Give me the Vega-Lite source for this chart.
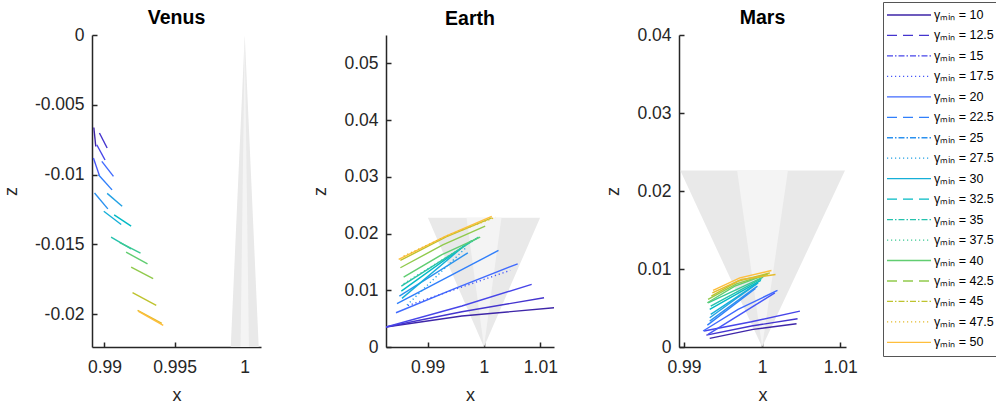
{
  "$schema": "https://vega.github.io/schema/vega-lite/v6.json",
  "padding": {"left": 2, "top": 1, "right": 5, "bottom": 5},
  "background": "white",
  "config": {
    "view": {"stroke": null},
    "axis": {"grid": false, "domainColor": "#262626", "domainWidth": 1.5, "tickColor": "#262626", "tickWidth": 1.5, "tickSize": -5, "labelFont": "Liberation Sans", "labelFontSize": 17.5, "labelColor": "#262626", "titleFont": "Liberation Sans", "titleFontSize": 18, "titleFontWeight": "normal", "titleColor": "#262626", "labelFlush": false, "labelOverlap": false, "labelExpr": "'' + datum.value"},
    "axisX": {"labelPadding": 16, "titlePadding": 11},
    "axisY": {"labelPadding": 13, "titlePadding": 14},
    "title": {"font": "Liberation Sans", "fontSize": 19.5, "fontWeight": "bold", "color": "#000000", "offset": -2, "anchor": "middle"}
  },
  "datasets": {
    "venusCone": [
      {"part": "outer", "z": 0, "lo": 1, "hi": 1}, {"part": "outer", "z": -0.0224, "lo": 0.999, "hi": 1.001},
      {"part": "inner", "z": 0, "lo": 1, "hi": 1}, {"part": "inner", "z": -0.0224, "lo": 0.9997, "hi": 1.0003}
    ],
    "earthCone": [
      {"part": "outer", "z": 0, "lo": 1, "hi": 1}, {"part": "outer", "z": 0.0228, "lo": 0.99005, "hi": 1.00995},
      {"part": "inner", "z": 0, "lo": 1, "hi": 1}, {"part": "inner", "z": 0.0228, "lo": 0.9969, "hi": 1.0031}
    ],
    "marsCone": [
      {"part": "outer", "z": 0, "lo": 1, "hi": 1}, {"part": "outer", "z": 0.02263, "lo": 0.98953, "hi": 1.0106},
      {"part": "inner", "z": 0, "lo": 1, "hi": 1}, {"part": "inner", "z": 0.02263, "lo": 0.9968, "hi": 1.0033}
    ],
    "venus": [
      {"g":10,"p":0,"x":0.98924,"z":-0.00662},{"g":10,"p":1,"x":0.98938,"z":-0.00798},
      {"g":12.5,"p":0,"x":0.98964,"z":-0.00702},{"g":12.5,"p":1,"x":0.99019,"z":-0.00809},
      {"g":15,"p":0,"x":0.98945,"z":-0.00786},{"g":15,"p":1,"x":0.99004,"z":-0.00895},
      {"g":17.5,"p":0,"x":0.98921,"z":-0.00881},{"g":17.5,"p":1,"x":0.98964,"z":-0.01007},
      {"g":20,"p":0,"x":0.98981,"z":-0.00905},{"g":20,"p":1,"x":0.99064,"z":-0.01012},
      {"g":22.5,"p":0,"x":0.98957,"z":-0.01000},{"g":22.5,"p":1,"x":0.99054,"z":-0.01109},
      {"g":25,"p":0,"x":0.98929,"z":-0.01131},{"g":25,"p":1,"x":0.99024,"z":-0.01245},
      {"g":27.5,"p":0,"x":0.99019,"z":-0.01134},{"g":27.5,"p":1,"x":0.99126,"z":-0.01226},
      {"g":30,"p":0,"x":0.98995,"z":-0.01262},{"g":30,"p":1,"x":0.99119,"z":-0.01357},
      {"g":32.5,"p":0,"x":0.99069,"z":-0.01288},{"g":32.5,"p":1,"x":0.99190,"z":-0.01369},
      {"g":35,"p":0,"x":0.99047,"z":-0.01448},{"g":35,"p":1,"x":0.99190,"z":-0.01531},
      {"g":37.5,"p":0,"x":0.99107,"z":-0.01484},{"g":37.5,"p":1,"x":0.99257,"z":-0.01562},
      {"g":40,"p":0,"x":0.99154,"z":-0.01555},{"g":40,"p":1,"x":0.99307,"z":-0.01638},
      {"g":42.5,"p":0,"x":0.99190,"z":-0.01662},{"g":42.5,"p":1,"x":0.99347,"z":-0.01745},
      {"g":45,"p":0,"x":0.99200,"z":-0.01845},{"g":45,"p":1,"x":0.99369,"z":-0.01936},
      {"g":47.5,"p":0,"x":0.99236,"z":-0.01971},{"g":47.5,"p":1,"x":0.99409,"z":-0.02064},
      {"g":50,"p":0,"x":0.99243,"z":-0.01979},{"g":50,"p":1,"x":0.99419,"z":-0.02079}
    ],
    "earth": [
      {"g":10,"p":0,"x":0.98250,"z":0.00350},{"g":10,"p":1,"x":0.99608,"z":0.00546},{"g":10,"p":2,"x":1.01260,"z":0.00694},
      {"g":12.5,"p":0,"x":0.98250,"z":0.00350},{"g":12.5,"p":1,"x":0.99608,"z":0.00622},{"g":12.5,"p":2,"x":1.01065,"z":0.00868},
      {"g":15,"p":0,"x":0.98250,"z":0.00350},{"g":15,"p":1,"x":0.99608,"z":0.00722},{"g":15,"p":2,"x":1.00846,"z":0.01104},
      {"g":17.5,"p":0,"x":0.98650,"z":0.00730},{"g":17.5,"p":1,"x":1.00464,"z":0.01350},
      {"g":20,"p":0,"x":0.98439,"z":0.00604},{"g":20,"p":1,"x":0.99490,"z":0.01033},{"g":20,"p":2,"x":1.00598,"z":0.01467},
      {"g":22.5,"p":0,"x":0.98457,"z":0.00763},{"g":22.5,"p":1,"x":1.00257,"z":0.01702},
      {"g":25,"p":0,"x":0.98499,"z":0.00898},{"g":25,"p":1,"x":0.99713,"z":0.01660},
      {"g":27.5,"p":0,"x":0.98634,"z":0.00739},{"g":27.5,"p":1,"x":0.99678,"z":0.01749},
      {"g":30,"p":0,"x":0.98545,"z":0.00857},{"g":30,"p":1,"x":0.99655,"z":0.01790},
      {"g":32.5,"p":0,"x":0.98534,"z":0.00986},{"g":32.5,"p":1,"x":0.99784,"z":0.01878},
      {"g":35,"p":0,"x":0.98534,"z":0.01074},{"g":35,"p":1,"x":0.99903,"z":0.01937},
      {"g":37.5,"p":0,"x":0.98575,"z":0.01115},{"g":37.5,"p":1,"x":0.99873,"z":0.01913},
      {"g":40,"p":0,"x":0.98575,"z":0.01232},{"g":40,"p":1,"x":0.99254,"z":0.01630},{"g":40,"p":2,"x":0.99933,"z":0.01937},
      {"g":42.5,"p":0,"x":0.98517,"z":0.01397},{"g":42.5,"p":1,"x":0.99269,"z":0.01800},{"g":42.5,"p":2,"x":1.00021,"z":0.02130},
      {"g":45,"p":0,"x":0.98517,"z":0.01526},{"g":45,"p":1,"x":0.99328,"z":0.01940},{"g":45,"p":2,"x":1.00138,"z":0.02277},
      {"g":47.5,"p":0,"x":0.98575,"z":0.01602},{"g":47.5,"p":1,"x":0.99392,"z":0.01980},{"g":47.5,"p":2,"x":1.00209,"z":0.02289},
      {"g":50,"p":0,"x":0.98487,"z":0.01544},{"g":50,"p":1,"x":0.99313,"z":0.01950},{"g":50,"p":2,"x":1.00138,"z":0.02301}
    ],
    "mars": [
      {"g":10,"p":0,"x":0.99329,"z":0.00111},{"g":10,"p":1,"x":0.99885,"z":0.00226},{"g":10,"p":2,"x":1.00440,"z":0.00298},
      {"g":12.5,"p":0,"x":0.99286,"z":0.00153},{"g":12.5,"p":1,"x":0.99863,"z":0.00269},{"g":12.5,"p":2,"x":1.00453,"z":0.00362},
      {"g":15,"p":0,"x":0.99256,"z":0.00205},{"g":15,"p":1,"x":0.99863,"z":0.00324},{"g":15,"p":2,"x":1.00483,"z":0.00460},
      {"g":17.5,"p":0,"x":0.99308,"z":0.00162},{"g":17.5,"p":1,"x":1.00163,"z":0.00695},
      {"g":20,"p":0,"x":0.99244,"z":0.00205},{"g":20,"p":1,"x":0.99692,"z":0.00482},{"g":20,"p":2,"x":1.00196,"z":0.00725},
      {"g":22.5,"p":0,"x":0.99299,"z":0.00281},{"g":22.5,"p":1,"x":0.99914,"z":0.00750},
      {"g":25,"p":0,"x":0.99329,"z":0.00332},{"g":25,"p":1,"x":0.99940,"z":0.00780},
      {"g":27.5,"p":0,"x":0.99329,"z":0.00375},{"g":27.5,"p":1,"x":0.99927,"z":0.00810},
      {"g":30,"p":0,"x":0.99342,"z":0.00418},{"g":30,"p":1,"x":0.99949,"z":0.00823},
      {"g":32.5,"p":0,"x":0.99329,"z":0.00482},{"g":32.5,"p":1,"x":0.99983,"z":0.00853},
      {"g":35,"p":0,"x":0.99342,"z":0.00524},{"g":35,"p":1,"x":0.99991,"z":0.00878},
      {"g":37.5,"p":0,"x":0.99308,"z":0.00567},{"g":37.5,"p":1,"x":1.00013,"z":0.00895},
      {"g":40,"p":0,"x":0.99299,"z":0.00567},{"g":40,"p":1,"x":0.99650,"z":0.00780},{"g":40,"p":2,"x":1.00055,"z":0.00929},
      {"g":42.5,"p":0,"x":0.99308,"z":0.00610},{"g":42.5,"p":1,"x":0.99671,"z":0.00810},{"g":42.5,"p":2,"x":1.00077,"z":0.00938},
      {"g":45,"p":0,"x":0.99350,"z":0.00652},{"g":45,"p":1,"x":0.99692,"z":0.00844},{"g":45,"p":2,"x":1.00099,"z":0.00950},
      {"g":47.5,"p":0,"x":0.99363,"z":0.00695},{"g":47.5,"p":1,"x":0.99735,"z":0.00865},{"g":47.5,"p":2,"x":1.00171,"z":0.00929},
      {"g":50,"p":0,"x":0.99372,"z":0.00725},{"g":50,"p":1,"x":0.99714,"z":0.00887},{"g":50,"p":2,"x":1.00119,"z":0.00981}
    ]
  },
  "spacing": 125,
  "bounds": "flush",
  "resolve": {"scale": {"x": "independent", "y": "independent", "color": "shared", "strokeDash": "shared"}},
  "hconcat": [
    {
      "width": 169, "height": 312,
      "title": "Venus",
      "layer": [
        {"data": {"name": "venusCone"}, "transform": [{"filter": "datum.part == 'outer'"}],
         "mark": {"type": "area", "orient": "horizontal", "color": "#e9e9e9", "clip": true},
         "encoding": {
           "y": {"field": "z", "type": "quantitative", "scale": {"domain": [-0.02234, 0], "nice": false, "zero": false}, "axis": {"title": "z", "values": [0, -0.005, -0.01, -0.015, -0.02]}},
           "x": {"field": "lo", "type": "quantitative", "scale": {"domain": [0.98911, 1.00116], "nice": false, "zero": false}, "axis": {"title": "x", "values": [0.99, 0.995, 1]}},
           "x2": {"field": "hi"}}},
        {"data": {"name": "venusCone"}, "transform": [{"filter": "datum.part == 'inner'"}],
         "mark": {"type": "area", "orient": "horizontal", "color": "#f4f4f4", "clip": true},
         "encoding": {
           "y": {"field": "z", "type": "quantitative", "scale": {"domain": [-0.02234, 0], "nice": false, "zero": false}, "axis": {"title": "z", "values": [0, -0.005, -0.01, -0.015, -0.02]}},
           "x": {"field": "lo", "type": "quantitative", "scale": {"domain": [0.98911, 1.00116], "nice": false, "zero": false}, "axis": {"title": "x", "values": [0.99, 0.995, 1]}},
           "x2": {"field": "hi"}}},
        {"data": {"name": "venus"},
         "mark": {"type": "line", "strokeWidth": 1.4, "clip": true},
         "encoding": {
           "y": {"field": "z", "type": "quantitative", "scale": {"domain": [-0.02234, 0], "nice": false, "zero": false}, "axis": {"title": "z", "values": [0, -0.005, -0.01, -0.015, -0.02]}},
           "x": {"field": "x", "type": "quantitative", "scale": {"domain": [0.98911, 1.00116], "nice": false, "zero": false}, "axis": {"title": "x", "values": [0.99, 0.995, 1]}},
           "order": {"field": "p", "type": "quantitative"},
           "detail": {"field": "g", "type": "ordinal"},
           "color": {"field": "g", "type": "ordinal", "title": "gamma",
             "scale": {"domain": [10,12.5,15,17.5,20,22.5,25,27.5,30,32.5,35,37.5,40,42.5,45,47.5,50], "range": ["#3e26a8","#4434ce","#4745e9","#4758f8","#416bfe","#307ffb","#2b91ef","#22a1e4","#15afd8","#02bac4","#25c2ad","#3bc993","#61cd71","#91ca4c","#bec32e","#e4bb2c","#febe3c"]},
             "legend": {"orient": "none", "legendX": 791, "legendY": -33, "title": null, "symbolType": "stroke", "symbolSize": 1936, "symbolStrokeWidth": 1.3, "clipHeight": 20, "rowPadding": 0.46, "labelFont": "Liberation Sans", "labelFontSize": 12.5, "labelColor": "#000000", "labelOffset": 2, "padding": 3, "strokeColor": "#555555", "fillColor": "#ffffff", "labelExpr": "'γₘᵢₙ = ' + datum.label"}}
         }}
      ]
    },
    {
      "width": 168, "height": 312,
      "title": {"text": "Earth", "offset": 6},
      "layer": [
        {"data": {"name": "earthCone"}, "transform": [{"filter": "datum.part == 'outer'"}],
         "mark": {"type": "area", "orient": "horizontal", "color": "#e9e9e9", "clip": true},
         "encoding": {
           "y": {"field": "z", "type": "quantitative", "scale": {"domain": [0, 0.055], "nice": false, "zero": false}, "axis": {"title": "z", "values": [0, 0.01, 0.02, 0.03, 0.04, 0.05]}},
           "x": {"field": "lo", "type": "quantitative", "scale": {"domain": [0.98262, 1.01242], "nice": false, "zero": false}, "axis": {"title": "x", "values": [0.99, 1, 1.01]}},
           "x2": {"field": "hi"}}},
        {"data": {"name": "earthCone"}, "transform": [{"filter": "datum.part == 'inner'"}],
         "mark": {"type": "area", "orient": "horizontal", "color": "#f4f4f4", "clip": true},
         "encoding": {
           "y": {"field": "z", "type": "quantitative", "scale": {"domain": [0, 0.055], "nice": false, "zero": false}, "axis": {"title": "z", "values": [0, 0.01, 0.02, 0.03, 0.04, 0.05]}},
           "x": {"field": "lo", "type": "quantitative", "scale": {"domain": [0.98262, 1.01242], "nice": false, "zero": false}, "axis": {"title": "x", "values": [0.99, 1, 1.01]}},
           "x2": {"field": "hi"}}},
        {"data": {"name": "earth"}, "transform": [{"filter": "indexof([17.5, 27.5, 37.5, 47.5], datum.g) < 0"}],
         "mark": {"type": "line", "strokeWidth": 1.4, "clip": true},
         "encoding": {
           "y": {"field": "z", "type": "quantitative", "scale": {"domain": [0, 0.055], "nice": false, "zero": false}, "axis": {"title": "z", "values": [0, 0.01, 0.02, 0.03, 0.04, 0.05]}},
           "x": {"field": "x", "type": "quantitative", "scale": {"domain": [0.98262, 1.01242], "nice": false, "zero": false}, "axis": {"title": "x", "values": [0.99, 1, 1.01]}},
           "order": {"field": "p", "type": "quantitative"},
           "detail": {"field": "g", "type": "ordinal"},
           "color": {"field": "g", "type": "ordinal", "title": "gamma"}
         }},
        {"data": {"name": "earth"}, "transform": [{"filter": "indexof([17.5, 27.5, 37.5, 47.5], datum.g) >= 0"}],
         "mark": {"type": "line", "strokeWidth": 1.4, "clip": true},
         "encoding": {
           "y": {"field": "z", "type": "quantitative", "scale": {"domain": [0, 0.055], "nice": false, "zero": false}, "axis": {"title": "z", "values": [0, 0.01, 0.02, 0.03, 0.04, 0.05]}},
           "x": {"field": "x", "type": "quantitative", "scale": {"domain": [0.98262, 1.01242], "nice": false, "zero": false}, "axis": {"title": "x", "values": [0.99, 1, 1.01]}},
           "order": {"field": "p", "type": "quantitative"},
           "color": {"field": "g", "type": "ordinal", "title": "gamma"},
           "strokeDash": {"field": "g", "type": "ordinal", "title": "gamma",
             "scale": {"domain": [10,12.5,15,17.5,20,22.5,25,27.5,30,32.5,35,37.5,40,42.5,45,47.5,50], "range": [[1,0],[10,6],[6,2,1.5,2],[1.2,2.8],[1,0],[10,6],[6,2,1.5,2],[1.2,2.8],[1,0],[10,6],[6,2,1.5,2],[1.2,2.8],[1,0],[10,6],[6,2,1.5,2],[1.2,2.8],[1,0]]},
             "legend": {"orient": "none", "legendX": 791, "legendY": -33, "title": null, "symbolType": "stroke", "symbolSize": 1936, "symbolStrokeWidth": 1.3, "clipHeight": 20, "rowPadding": 0.46, "labelFont": "Liberation Sans", "labelFontSize": 12.5, "labelColor": "#000000", "labelOffset": 2, "padding": 3, "strokeColor": "#555555", "fillColor": "#ffffff", "labelExpr": "'γₘᵢₙ = ' + datum.label"}}
         }}
      ]
    },
    {
      "width": 167, "height": 312,
      "title": "Mars",
      "layer": [
        {"data": {"name": "marsCone"}, "transform": [{"filter": "datum.part == 'outer'"}],
         "mark": {"type": "area", "orient": "horizontal", "color": "#e9e9e9", "clip": true},
         "encoding": {
           "y": {"field": "z", "type": "quantitative", "scale": {"domain": [0, 0.04], "nice": false, "zero": false}, "axis": {"title": "z", "values": [0, 0.01, 0.02, 0.03, 0.04]}},
           "x": {"field": "lo", "type": "quantitative", "scale": {"domain": [0.98936, 1.01073], "nice": false, "zero": false}, "axis": {"title": "x", "values": [0.99, 1, 1.01]}},
           "x2": {"field": "hi"}}},
        {"data": {"name": "marsCone"}, "transform": [{"filter": "datum.part == 'inner'"}],
         "mark": {"type": "area", "orient": "horizontal", "color": "#f4f4f4", "clip": true},
         "encoding": {
           "y": {"field": "z", "type": "quantitative", "scale": {"domain": [0, 0.04], "nice": false, "zero": false}, "axis": {"title": "z", "values": [0, 0.01, 0.02, 0.03, 0.04]}},
           "x": {"field": "lo", "type": "quantitative", "scale": {"domain": [0.98936, 1.01073], "nice": false, "zero": false}, "axis": {"title": "x", "values": [0.99, 1, 1.01]}},
           "x2": {"field": "hi"}}},
        {"data": {"name": "mars"},
         "mark": {"type": "line", "strokeWidth": 1.4, "clip": true},
         "encoding": {
           "y": {"field": "z", "type": "quantitative", "scale": {"domain": [0, 0.04], "nice": false, "zero": false}, "axis": {"title": "z", "values": [0, 0.01, 0.02, 0.03, 0.04]}},
           "x": {"field": "x", "type": "quantitative", "scale": {"domain": [0.98936, 1.01073], "nice": false, "zero": false}, "axis": {"title": "x", "values": [0.99, 1, 1.01]}},
           "order": {"field": "p", "type": "quantitative"},
           "detail": {"field": "g", "type": "ordinal"},
           "color": {"field": "g", "type": "ordinal", "title": "gamma"}
         }}
      ]
    }
  ]
}
